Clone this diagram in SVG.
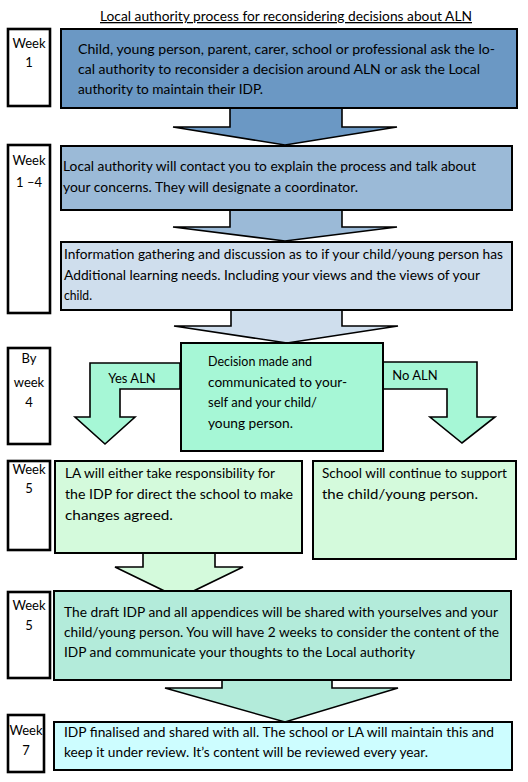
<svg xmlns="http://www.w3.org/2000/svg" width="528" height="782" viewBox="0 0 528 782">
<style>
text{font-family:"Lato","Liberation Sans",sans-serif;font-size:13px;fill:#000}
.wk{stroke:#000;stroke-width:2.6;fill:#fff}
.bx{stroke:#000;stroke-width:2}
.ar{stroke:#000;stroke-width:1.6;stroke-linejoin:miter}
.c{text-anchor:middle}
</style>
<rect width="528" height="782" fill="#fff"/>
<text x="286" y="21" class="c" text-decoration="underline" textLength="372" lengthAdjust="spacingAndGlyphs">Local authority process for reconsidering decisions about ALN</text>
<g id="connectors">
<path class="ar" fill="#6b98c4" d="M230,100 L230,127 L173,127 L285,145 L397,127 L342,127 L342,100 Z"/>
<path class="ar" fill="#9bbad7" d="M230,205 L230,227 L173,227 L285,241 L397,227 L342,227 L342,205 Z"/>
<path class="ar" fill="#cfdeed" d="M231,305 L231,326 L174,326 L287,343 L398,326 L342,326 L342,305 Z"/>
<path class="ar" fill="#a6f7d6" d="M180,363 L90,363 L90,417 L75,417 L105,444 L135,417 L120,417 L120,389 L180,389 Z"/>
<path class="ar" fill="#a6f7d6" d="M382,362 L477,362 L477,417 L495,417 L462,443 L430,417 L447,417 L447,389 L382,389 Z"/>
<path class="ar" fill="#d4fadc" d="M143,545 L143,567 L115,567 L179,598 L243,567 L215,567 L215,545 Z"/>
<path class="ar" fill="#b3ebda" d="M222,675 L222,688 L165,688 L285,722 L398,688 L332,688 L332,675 Z"/>
<text x="132" y="383" class="c">Yes ALN</text>
<text x="415" y="380" class="c">No ALN</text>
</g>
<g id="week1"><rect class="wk" x="8" y="29" width="42" height="77"/><text x="29" y="48" class="c">Week</text><text x="29" y="67" class="c">1</text></g>
<g id="week1-4"><rect class="wk" x="8" y="145" width="42" height="168"/><text x="29" y="165" class="c">Week</text><text x="29" y="187" class="c">1 –4</text></g>
<g id="week4"><rect class="wk" x="8" y="348" width="42" height="96"/><text x="29" y="363" class="c">By</text><text x="29" y="387" class="c">week</text><text x="29" y="407" class="c">4</text></g>
<g id="week5a"><rect class="wk" x="8" y="461" width="42" height="89"/><text x="29" y="474" class="c">Week</text><text x="29" y="493" class="c">5</text></g>
<g id="week5b"><rect class="wk" x="8" y="592" width="42" height="86"/><text x="29" y="610" class="c">Week</text><text x="29" y="630" class="c">5</text></g>
<g id="week7"><rect class="wk" x="8" y="715" width="36" height="57"/><text x="26" y="735" class="c">Week</text><text x="26" y="755" class="c">7</text></g>
<g id="request"><rect class="bx" fill="#6b98c4" x="61" y="29" width="456" height="79"/>
<text x="78" y="54" textLength="417" lengthAdjust="spacingAndGlyphs">Child, young person, parent, carer, school or professional ask the lo-</text>
<text x="78" y="74" textLength="402" lengthAdjust="spacingAndGlyphs">cal authority to reconsider a decision around ALN or ask the Local</text>
<text x="78" y="94" textLength="185" lengthAdjust="spacingAndGlyphs">authority to maintain their IDP.</text></g>
<g id="contact"><rect class="bx" fill="#9bbad7" x="61" y="146" width="451" height="64"/>
<text x="63" y="171" textLength="413" lengthAdjust="spacingAndGlyphs">Local authority will contact you to explain the process and talk about</text>
<text x="63" y="192" textLength="295" lengthAdjust="spacingAndGlyphs">your concerns. They will designate a coordinator.</text></g>
<g id="gathering"><rect class="bx" fill="#cfdeed" x="61" y="242" width="451" height="68"/>
<text x="64" y="259" textLength="439" lengthAdjust="spacingAndGlyphs">Information gathering and discussion as to if your child/young person has</text>
<text x="64" y="280" textLength="416" lengthAdjust="spacingAndGlyphs">Additional learning needs. Including your views and the views of your</text>
<text x="64" y="300" textLength="28" lengthAdjust="spacingAndGlyphs">child.</text></g>
<g id="decision"><rect class="bx" fill="#a6f7d6" x="181" y="343" width="202" height="108"/>
<text x="208" y="366" textLength="104" lengthAdjust="spacingAndGlyphs">Decision made and</text>
<text x="208" y="387" textLength="139" lengthAdjust="spacingAndGlyphs">communicated to your-</text>
<text x="208" y="407" textLength="109" lengthAdjust="spacingAndGlyphs">self and your child/</text>
<text x="208" y="428" textLength="85" lengthAdjust="spacingAndGlyphs">young person.</text></g>
<g id="la"><rect class="bx" fill="#d4fadc" x="55" y="461" width="247" height="92"/>
<text x="65" y="478" textLength="210" lengthAdjust="spacingAndGlyphs">LA will either take responsibility for</text>
<text x="65" y="499" textLength="228" lengthAdjust="spacingAndGlyphs">the IDP for direct the school to make</text>
<text x="65" y="520" textLength="108" lengthAdjust="spacingAndGlyphs">changes agreed.</text></g>
<g id="school"><rect class="bx" fill="#d4fadc" x="313" y="461" width="203" height="98"/>
<text x="322" y="478" textLength="185" lengthAdjust="spacingAndGlyphs">School will continue to support</text>
<text x="322" y="499" textLength="156" lengthAdjust="spacingAndGlyphs">the child/young person.</text></g>
<g id="draft"><rect class="bx" fill="#b3ebda" x="54" y="591" width="457" height="89"/>
<text x="64" y="617" textLength="434" lengthAdjust="spacingAndGlyphs">The draft IDP and all appendices will be shared with yourselves and your</text>
<text x="64" y="637" textLength="435" lengthAdjust="spacingAndGlyphs">child/young person. You will have 2 weeks to consider the content of the</text>
<text x="64" y="657" textLength="351" lengthAdjust="spacingAndGlyphs">IDP and communicate your thoughts to the Local authority</text></g>
<g id="final"><rect class="bx" fill="#cdfdff" x="54" y="722" width="458" height="48"/>
<text x="64" y="737" textLength="430" lengthAdjust="spacingAndGlyphs">IDP finalised and shared with all. The school or LA will maintain this and</text>
<text x="64" y="757" textLength="364" lengthAdjust="spacingAndGlyphs">keep it under review. It’s content will be reviewed every year.</text></g>
</svg>
